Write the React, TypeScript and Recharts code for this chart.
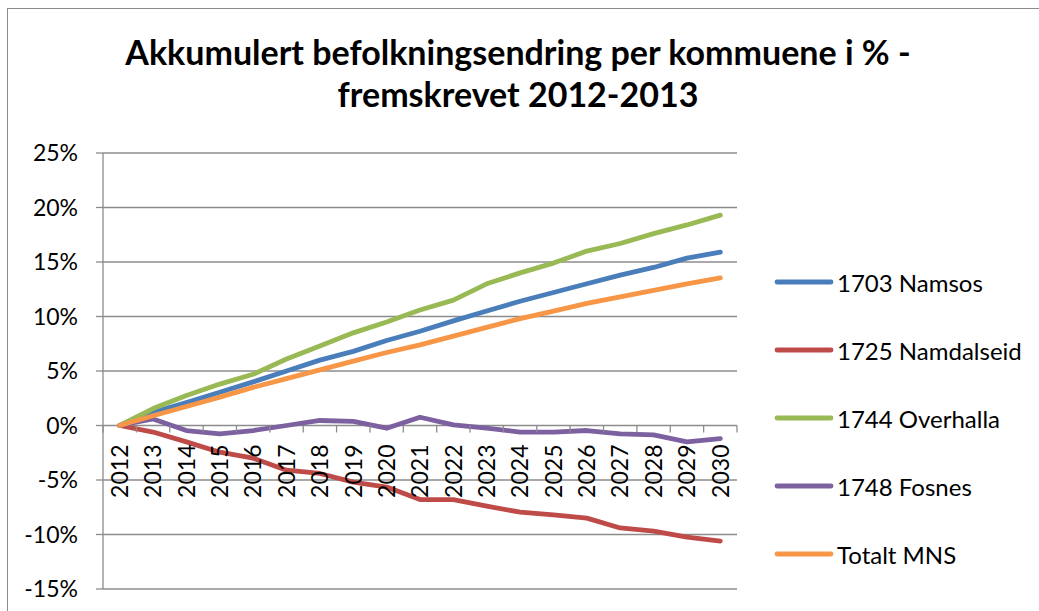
import React from 'react';
import { LineChart, Line, XAxis, YAxis, CartesianGrid, Legend } from 'recharts';

const years = ['2012','2013','2014','2015','2016','2017','2018','2019','2020','2021','2022','2023','2024','2025','2026','2027','2028','2029','2030'];
const namsos = [0, 1.2, 2.1, 3.05, 4.0, 5.0, 6.0, 6.8, 7.8, 8.65, 9.6, 10.5, 11.4, 12.2, 13.0, 13.8, 14.5, 15.35, 15.9];
const namdalseid = [0, -0.6, -1.5, -2.45, -3.0, -4.1, -4.4, -5.2, -5.65, -6.8, -6.8, -7.4, -7.95, -8.2, -8.5, -9.4, -9.7, -10.25, -10.6];
const overhalla = [0, 1.55, 2.75, 3.8, 4.7, 6.1, 7.3, 8.5, 9.5, 10.6, 11.5, 13.0, 14.0, 14.9, 16.0, 16.7, 17.6, 18.4, 19.3];
const fosnes = [0, 0.6, -0.46, -0.76, -0.46, 0, 0.46, 0.37, -0.25, 0.76, 0.06, -0.25, -0.6, -0.6, -0.46, -0.76, -0.86, -1.5, -1.2];
const totalt = [0, 0.9, 1.74, 2.6, 3.5, 4.3, 5.1, 5.9, 6.7, 7.4, 8.2, 9.0, 9.8, 10.5, 11.2, 11.8, 12.4, 13.0, 13.55];
const yTicks = [-15, -10, -5, 0, 5, 10, 15, 20, 25];
const seriesNames = ['1703 Namsos', '1725 Namdalseid', '1744 Overhalla', '1748 Fosnes', 'Totalt MNS'];
const seriesColors = ['#4A7EBB', '#BE4B48', '#98B954', '#7D60A0', '#F79646'];
const titleLines = ['Akkumulert befolkningsendring per kommuene i % -', 'fremskrevet 2012-2013'];

const data = years.map((y, i) => ({
  year: y,
  s0: namsos[i],
  s1: namdalseid[i],
  s2: overhalla[i],
  s3: fosnes[i],
  s4: totalt[i],
}));

const W = 1039;
const H = 611;
const TOP = 153;
const LEFT = 103;
const RIGHT = 737;
const BOTTOM = 589;
const PLOT_H = BOTTOM - TOP;
const PLOT_W = RIGHT - LEFT;
const Y_MIN = -15;
const Y_MAX = 25;
const ZERO_Y = TOP + PLOT_H * (Y_MAX / (Y_MAX - Y_MIN));
const BW = PLOT_W / years.length;
const FONT = 'Lato, sans-serif';
const GRID = '#8c8c8c';

const XTick = (props: any) => {
  const { x, payload, index } = props;
  return (
    <g>
      <line x1={x - BW / 2} x2={x - BW / 2} y1={ZERO_Y} y2={ZERO_Y + 7} stroke={GRID} strokeWidth={1.3} />
      {index === years.length - 1 && (
        <line x1={x + BW / 2} x2={x + BW / 2} y1={ZERO_Y} y2={ZERO_Y + 7} stroke={GRID} strokeWidth={1.3} />
      )}
      <text
        transform={`translate(${x},${ZERO_Y + 19}) rotate(-90)`}
        textAnchor="end"
        dy="0.36em"
        fontSize={23}
        fontFamily={FONT}
        fill="#000"
      >
        {payload.value}
      </text>
    </g>
  );
};

const LegendContent = () => (
  <div style={{ fontFamily: FONT }}>
    {seriesNames.map((n, i) => (
      <div key={n} style={{ height: 68, display: 'flex', alignItems: 'center' }}>
        <svg width={60} height={8} style={{ marginRight: 3 }}>
          <line x1={3} x2={57} y1={4} y2={4} stroke={seriesColors[i]} strokeWidth={4.8} strokeLinecap="round" />
        </svg>
        <span style={{ fontSize: 24, color: '#000', whiteSpace: 'nowrap' }}>{n}</span>
      </div>
    ))}
  </div>
);

export default function App() {
  return (
    <div style={{ position: 'absolute', left: 0, top: 0, width: W, height: H, background: '#fff', overflow: 'hidden' }}>
      <div style={{ position: 'absolute', left: 7, top: 8, width: 1200, height: 800, border: '1.5px solid #8c8c8c' }} />
      <div
        style={{
          position: 'absolute',
          left: 0,
          top: 31,
          width: 1036,
          textAlign: 'center',
          fontFamily: FONT,
          fontWeight: 700,
          fontSize: 34,
          lineHeight: '42px',
          color: '#000',
        }}
      >
        {titleLines.map((t) => (
          <div key={t}>{t}</div>
        ))}
      </div>
      <div style={{ position: 'absolute', left: 0, top: 0 }}>
        <LineChart width={W} height={H} data={data} margin={{ top: TOP, right: W - RIGHT, bottom: 0, left: 0 }}>
          <CartesianGrid vertical={false} stroke={GRID} strokeWidth={1.3} />
          <XAxis
            dataKey="year"
            height={H - BOTTOM}
            axisLine={false}
            tickLine={false}
            tick={<XTick />}
            interval={0}
            padding={{ left: BW / 2, right: BW / 2 }}
          />
          <YAxis
            width={LEFT}
            domain={[Y_MIN, Y_MAX]}
            ticks={yTicks}
            tickFormatter={(v: number) => `${v}%`}
            axisLine={{ stroke: GRID, strokeWidth: 1.3 }}
            tickLine={{ stroke: GRID, strokeWidth: 1.3 }}
            tickSize={7}
            tickMargin={18}
            tick={{ fontSize: 23, fontFamily: FONT, fill: '#000' }}
            allowDataOverflow
          />
          <Legend
            layout="vertical"
            align="center"
            verticalAlign="middle"
            content={<LegendContent />}
            wrapperStyle={{ position: 'absolute', left: 774, top: 248, width: 265 }}
          />
          {['s0', 's1', 's2', 's3', 's4'].map((k, i) => (
            <Line
              key={k}
              dataKey={k}
              name={seriesNames[i]}
              stroke={seriesColors[i]}
              strokeWidth={4.8}
              strokeLinecap="round"
              strokeLinejoin="round"
              dot={false}
              type="linear"
              isAnimationActive={false}
            />
          ))}
        </LineChart>
      </div>
    </div>
  );
}
